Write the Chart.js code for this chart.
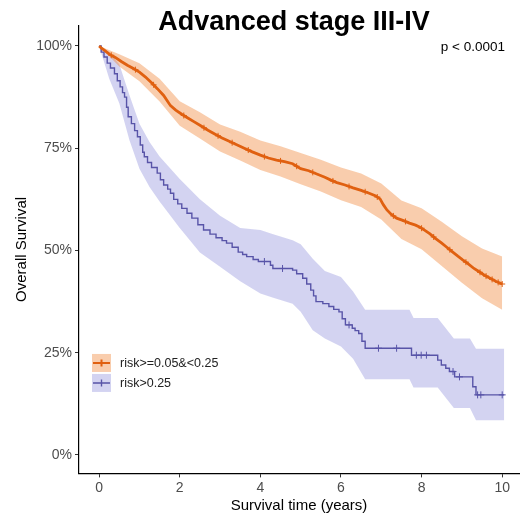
<!DOCTYPE html>
<html>
<head>
<meta charset="utf-8">
<script src="https://cdn.jsdelivr.net/npm/chart.js@4.4.1/dist/chart.umd.min.js"></script>
<style>
  html, body { margin: 0; padding: 0; background: #fff; overflow: hidden; }
  canvas { display: block; }
</style>
</head>
<body>
<canvas id="km" width="524" height="520"></canvas>
<script>
// groups
const groups = ["risk>=0.05&<0.25", "risk>0.25"];
const titleText = "Advanced stage III-IV";
const pText = "p < 0.0001";

// tick labels
const xTicks = [0, 2, 4, 6, 8, 10];
const yTicks = [0, 25, 50, 75, 100];

// low risk group (orange), survival in %
const lowTime = [0, 0.05, 0.15, 0.25, 0.4, 0.55, 0.7, 0.85, 1.0, 1.15, 1.3, 1.45, 1.6, 1.77, 1.9,
  2.05, 2.2, 2.35, 2.5, 2.7, 2.9, 3.05, 3.2, 3.4, 3.6, 3.8, 4.0, 4.2, 4.4, 4.6, 4.8, 5.0, 5.2,
  5.4, 5.6, 5.75, 5.9, 6.1, 6.3, 6.5, 6.7, 6.85, 6.97, 7.05, 7.14, 7.25, 7.38, 7.55, 7.7, 7.85,
  7.96, 8.1, 8.2, 8.35, 8.5, 8.61, 8.75, 8.9, 9.02, 9.15, 9.3, 9.43, 9.55, 9.7, 9.85, 10.0];
const lowSurv = [100, 99.5, 98.8, 98.0, 97.2, 96.2, 95.3, 94.5, 93.6, 92.4, 91.0, 89.5, 87.9, 85.4, 84.3,
  83.3, 82.4, 81.5, 80.6, 79.4, 78.3, 77.5, 76.8, 75.9, 75.0, 74.1, 73.3, 72.6, 72.1, 71.7, 71.2, 70.0, 69.5,
  68.7, 67.9, 67.2, 66.6, 66.0, 65.3, 64.7, 64.0, 63.4, 62.6, 61.2, 59.9, 58.8, 57.9, 57.3, 56.7, 56.2,
  55.7, 54.8, 54.1, 52.9, 51.8, 50.9, 49.8, 48.6, 47.7, 46.8, 45.6, 44.8, 44.0, 43.2, 42.4, 41.8];
const lowCensor = [0.3, 0.9, 1.35, 2.1, 2.6, 2.95, 3.3, 3.7, 4.1, 4.5, 4.9, 5.3, 5.8, 6.2, 6.6,
  6.9, 7.3, 7.6, 8.0, 8.3, 8.7, 9.1, 9.45, 9.6, 9.75, 9.9, 10.0];
const lowBandTime = [0, 0.5, 1, 1.5, 2, 2.5, 3, 3.5, 4, 4.5, 5, 5.5, 6, 6.5, 7, 7.5, 8, 8.5, 9, 9.5, 10];
const lowUpper = [100, 98, 95.8, 92, 86.5, 83.8, 80.8, 79, 76.9, 75.5, 73.8, 72.2, 70.3, 68.8, 66.4, 62.2, 60.3, 57, 53.5, 50.5, 48.5];
const lowLower = [100, 95, 91.4, 86.4, 80.5, 77.4, 74.2, 72, 69.7, 68.1, 66.2, 64.4, 62.3, 60.6, 57.6, 52.8, 50.3, 46.2, 42.1, 38.3, 35.5];

// high risk group (blue)
const highTime = [0, 0.05, 0.12, 0.2, 0.28, 0.38, 0.45, 0.52, 0.58, 0.63, 0.68, 0.72, 0.8, 0.88, 0.95,
  1.02, 1.08, 1.12, 1.2, 1.3, 1.44, 1.52, 1.6, 1.7, 1.77, 1.85, 1.95, 2.05, 2.18, 2.3, 2.45, 2.59,
  2.75, 2.9, 3.05, 3.16, 3.3, 3.45, 3.56, 3.66, 3.82, 3.95, 4.25, 4.31, 4.8, 4.9, 5.05, 5.15, 5.25,
  5.32, 5.38, 5.55, 5.7, 5.82, 5.95, 6.03, 6.11, 6.28, 6.35, 6.44, 6.52, 6.6, 7.75, 8.4, 8.49, 8.6,
  8.69, 8.82, 9.27, 9.35, 10.05];
const highSurv = [100, 98.5, 97.3, 95.8, 94.6, 93.2, 91.5, 90.0, 88.6, 87.5, 85.0, 82.7, 81.0, 79.3, 77.8,
  75.8, 74.0, 72.9, 71.5, 70.3, 68.9, 67.3, 66.0, 65.0, 64.0, 62.5, 61.4, 60.3, 59.1, 57.9, 56.3, 55.0,
  54.0, 53.1, 52.4, 51.8, 50.8, 49.6, 49.0, 48.5, 47.8, 47.3, 46.4, 45.6, 45.2, 44.3, 43.2, 41.8, 40.3,
  38.9, 37.5, 37.0, 36.3, 35.6, 35.0, 33.3, 31.8, 31.0, 30.4, 29.7, 27.8, 26.1, 24.4, 23.2, 22.0, 21.2,
  20.4, 19.1, 16.7, 14.7, 14.7];
const highCensor = [4.1, 4.55, 6.2, 6.93, 7.38, 7.87, 7.99, 8.12, 8.78, 8.94, 9.39, 9.47, 10.0];
const highBandTime = [0, 0.25, 0.5, 0.75, 1.0, 1.25, 1.5, 2.0, 2.5, 3.0, 3.5, 4.0, 4.3, 4.8, 5.0, 5.3,
  5.6, 6.0, 6.3, 6.6, 7.7, 7.8, 8.4, 8.8, 9.2, 9.35, 10.05];
const highUpper = [100, 98.5, 95.5, 88, 81, 76.5, 73, 67.5, 62.5, 58.5, 55.5, 55, 54, 52.5, 51.5, 48,
  45, 43.5, 40, 35.5, 35.5, 33.5, 33.5, 28.5, 28.5, 26, 26];
const highLower = [100, 92, 86, 77, 70, 65.5, 62, 55.5, 49.5, 46, 42.5, 39.5, 38.5, 37, 35, 30.5,
  28.5, 26.5, 23.5, 18.5, 18.5, 16.5, 16.5, 11.5, 11.5, 8.5, 8.5];

const lowColor = "rgb(224, 96, 16)";
const lowFill = "rgba(240, 130, 50, 0.4)";
const highColor = "rgb(88, 84, 168)";
const highFill = "rgba(110, 110, 210, 0.3)";
const fontFamily = "'Liberation Sans', Arial, sans-serif";

function pts(xs, ys) {
  return xs.map((x, i) => ({ x: x, y: ys[i] }));
}
// censor marks sit on the curve at the given time (step or straight lookup)
function onCurve(times, xs, ys, step) {
  return times.map(t => {
    let v = ys[0];
    for (let i = 0; i < xs.length; i++) {
      if (xs[i] <= t) v = ys[i];
      else {
        if (!step && i > 0) v = ys[i - 1] + (ys[i] - ys[i - 1]) * (t - xs[i - 1]) / (xs[i] - xs[i - 1]);
        break;
      }
    }
    return { x: t, y: v };
  });
}

const lineBase = { pointRadius: 0, tension: 0, fill: false };
const censorBase = { showLine: false, pointStyle: "cross", borderWidth: 1, fill: false };
const bandBase = { pointRadius: 0, borderWidth: 0, tension: 0 };

const data = {
  datasets: [
    { ...censorBase, data: onCurve(lowCensor, lowTime, lowSurv, false), borderColor: lowColor, pointRadius: 3 },
    { ...censorBase, data: onCurve(highCensor, highTime, highSurv, true), borderColor: highColor, pointRadius: 3.5 },
    // orange has so many tiny steps it reads as a rough line
    { ...lineBase, data: pts(lowTime, lowSurv), borderColor: lowColor, borderWidth: 2.8 },
    { ...lineBase, stepped: true, data: pts(highTime, highSurv), borderColor: highColor, borderWidth: 1.4 },
    { ...bandBase, data: pts(lowBandTime, lowUpper), backgroundColor: lowFill, fill: "+1" },
    { ...bandBase, data: pts(lowBandTime, lowLower), fill: false },
    { ...bandBase, data: pts(highBandTime, highUpper), backgroundColor: highFill, fill: "+1" },
    { ...bandBase, data: pts(highBandTime, highLower), fill: false },
  ],
};

// title, p value and the legend inside the panel
const extras = {
  id: "extras",
  afterDraw(chart) {
    const ctx = chart.ctx;
    const a = chart.chartArea;
    ctx.save();
    ctx.fillStyle = "#000";
    ctx.font = "bold 27px " + fontFamily;
    ctx.textAlign = "center";
    ctx.textBaseline = "alphabetic";
    ctx.fillText(titleText, (a.left + a.right) / 2 - 5, 30);

    ctx.textBaseline = "middle";
    ctx.font = "13.5px " + fontFamily;
    ctx.textAlign = "right";
    ctx.fillText(pText, a.right - 14, chart.scales.y.getPixelForValue(100) + 1);

    const cols = [lowColor, highColor];
    const fills = [lowFill, highFill];
    groups.forEach((g, i) => {
      const cy = chart.scales.y.getPixelForValue(22.5) + i * 20;
      const x0 = a.left + 13;
      ctx.fillStyle = fills[i];
      ctx.fillRect(x0, cy - 9, 19, 18);
      ctx.strokeStyle = cols[i];
      ctx.lineWidth = i === 0 ? 2 : 1.4;
      ctx.beginPath();
      ctx.moveTo(x0 + 1, cy);
      ctx.lineTo(x0 + 18, cy);
      ctx.moveTo(x0 + 9.5, cy - 3.5);
      ctx.lineTo(x0 + 9.5, cy + 3.5);
      ctx.stroke();
      ctx.fillStyle = "#222";
      ctx.font = "12.5px " + fontFamily;
      ctx.textAlign = "left";
      ctx.fillText(g, x0 + 28, cy + 1);
    });
    ctx.restore();
  },
};

const config = {
  type: "line",
  data: data,
  options: {
    responsive: false,
    animation: false,
    devicePixelRatio: 1,
    layout: { padding: { top: 25.5, right: 0, bottom: 0, left: 0 } },
    plugins: { legend: { display: false }, tooltip: { enabled: false }, title: { display: false } },
    scales: {
      x: {
        type: "linear",
        min: -0.5,
        max: 10.417,
        afterFit(s) { s.height = 46.6; },
        afterBuildTicks(s) { s.ticks = xTicks.map(v => ({ value: v })); },
        grid: { display: true, drawOnChartArea: false, drawTicks: true, tickLength: 4, color: "#333" },
        border: { display: true, color: "#000", width: 1.2 },
        ticks: { color: "#4d4d4d", padding: 2, font: { family: fontFamily, size: 14 }, maxRotation: 0 },
        title: { display: true, text: "Survival time (years)", color: "#000", padding: { top: 0, bottom: 5 },
          font: { family: fontFamily, size: 15 } },
      },
      y: {
        type: "linear",
        min: -4.5,
        max: 105,
        afterFit(s) { s.width = 79; },
        afterBuildTicks(s) { s.ticks = yTicks.map(v => ({ value: v })); },
        grid: { display: true, drawOnChartArea: false, drawTicks: true, tickLength: 4, color: "#333" },
        border: { display: true, color: "#000", width: 1.2 },
        ticks: { color: "#4d4d4d", padding: 3, font: { family: fontFamily, size: 14 },
          callback: v => v + "%" },
        title: { display: true, text: "Overall Survival", color: "#000", padding: { top: 13, bottom: 0 },
          font: { family: fontFamily, size: 15 } },
      },
    },
  },
  plugins: [extras],
};

const myChart = new Chart(document.getElementById("km"), config);
</script>
</body>
</html>
